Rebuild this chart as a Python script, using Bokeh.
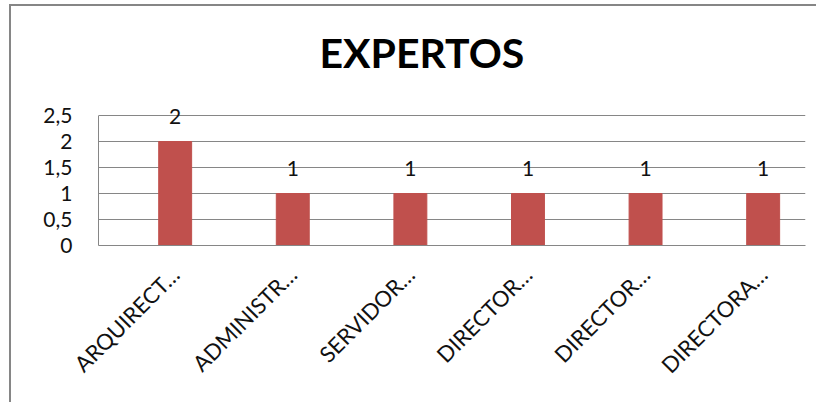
from bokeh.plotting import figure
from bokeh.models import Range1d, FixedTicker, CustomJSTickFormatter, ColumnDataSource, LabelSet
from bokeh.core.properties import value
from bokeh.embed import file_html
from bokeh.resources import INLINE
import math

# ---- data ----
categories = ["ARQUIRECT…", "ADMINISTR…", "SERVIDOR…", "DIRECTOR…", "DIRECTOR…", "DIRECTORA…"]
counts = [2, 1, 1, 1, 1, 1]
y_ticks = [0, 0.5, 1, 1.5, 2, 2.5]
title_text = "EXPERTOS"

idx = list(range(len(categories)))
src = ColumnDataSource(dict(x=idx, y=counts, lbl=[str(v) for v in counts]))

FONT = "Lato"
GRAY = "#868686"

# frame: y from 0 (bottom) to 3.0 so the value labels above the top bar are not clipped;
# axis and grid stop at 2.5
p = figure(width=805, height=396, output_backend="svg", toolbar_location=None,
           x_range=Range1d(-0.652, 5.36), y_range=Range1d(0, 3.0),
           min_border_left=87, min_border_right=13, min_border_top=83, min_border_bottom=159)

p.styles = {"margin-left": "9px", "margin-top": "4px",
            "border-left": f"2px solid {GRAY}", "border-top": f"2px solid {GRAY}",
            "border-right": "none", "border-bottom": "none",
            "box-sizing": "content-box"}

p.title.text = title_text
p.title.align = "left"
p.title.offset = 221
p.title.standoff = 26
p.title.text_font = FONT
p.title.text_font_style = "bold"
p.title.text_font_size = "41px"
p.title.text_color = "black"

p.vbar(x="x", top="y", width=0.28, source=src, fill_color="#C0504D", line_color="#C0504D")
labels = LabelSet(x="x", y="y", text="lbl", source=src, text_align="center",
                  text_baseline="alphabetic", y_offset=18, text_font=value(FONT),
                  text_font_size=value("21px"), text_color=value("#111111"))
p.add_layout(labels)

p.outline_line_color = None
p.background_fill_color = "white"
p.border_fill_color = "white"

# grid
p.xgrid.grid_line_color = None
p.ygrid.ticker = FixedTicker(ticks=y_ticks)
p.ygrid.grid_line_color = GRAY
p.ygrid.grid_line_width = 1

# y axis
p.yaxis.ticker = FixedTicker(ticks=y_ticks)
p.yaxis.bounds = (0, 2.5)
p.yaxis.formatter = CustomJSTickFormatter(code="return tick.toString().replace('.', ',');")
p.yaxis.axis_line_color = GRAY
p.yaxis.major_tick_line_color = None
p.yaxis.minor_tick_line_color = None
p.yaxis.major_label_standoff = 20
p.yaxis.major_label_text_font = FONT
p.yaxis.major_label_text_font_size = "21px"
p.yaxis.major_label_text_color = "#111111"

# x axis
p.xaxis.ticker = FixedTicker(ticks=idx)
p.xaxis.major_label_overrides = {i: c for i, c in zip(idx, categories)}
p.xaxis.major_label_orientation = math.pi / 4
p.xaxis.axis_line_color = GRAY
p.xaxis.major_tick_line_color = None
p.xaxis.minor_tick_line_color = None
p.xaxis.major_label_standoff = 19
p.xaxis.major_label_text_font = FONT
p.xaxis.major_label_text_font_size = "22px"
p.xaxis.major_label_text_color = "#111111"

html = file_html(p, INLINE)
html = html.replace("</head>", "<style>html,body{margin:0;padding:0;overflow:hidden;}</style></head>", 1)
open("out.html", "w").write(html)
